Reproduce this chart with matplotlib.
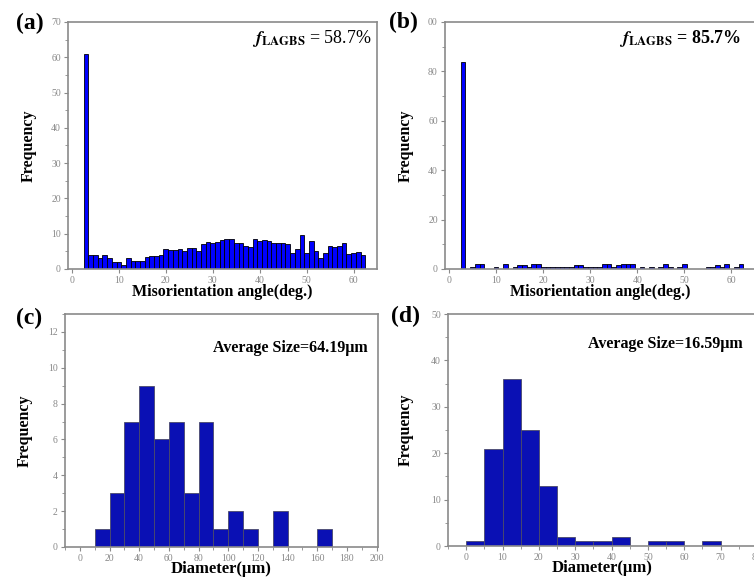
import matplotlib
matplotlib.use("Agg")
import matplotlib.pyplot as plt
import numpy as np
from matplotlib.ticker import MultipleLocator, FixedLocator, FixedFormatter

plt.rcParams['font.family'] = ['Liberation Serif', 'DejaVu Serif']
plt.rcParams['mathtext.fontset'] = 'stix'

# ---------------- data ----------------
angle_bins = list(range(3, 63))  # bin centres, width 1 deg
freq_a = [61, 4, 4, 3, 4, 3, 2, 2, 1, 3, 2.4, 2.2, 2.4, 3.4, 3.8, 3.6, 4.1, 5.6, 5.3, 5.3,
          5.7, 5.0, 6.0, 5.9, 5.1, 7.1, 7.6, 7.5, 7.6, 8.3, 8.6, 8.4, 7.5, 7.3, 6.6, 6.3,
          8.4, 8.0, 8.2, 7.8, 7.5, 7.5, 7.5, 7.2, 4.5, 5.6, 9.7, 4.5, 7.8, 5.0, 3.2, 4.5,
          6.5, 6.3, 6.4, 7.5, 4.2, 4.5, 4.7, 4.0]
freq_b = [84, 0, 1, 2, 2, 0, 0, 1, 0, 2, 0, 1, 1.5, 1.5, 1, 2, 2, 1, 1, 1,
          1, 0.7, 1, 1, 1.5, 1.5, 1, 1, 1, 1, 2, 2, 1, 1.5, 2, 2, 2, 0,
          1, 0, 1, 0, 1, 2, 1, 0, 1, 2, 0, 0, 0, 0, 1, 1, 1.5, 1, 2, 0, 1, 2]

diam_c_left = [10, 20, 30, 40, 50, 60, 70, 80, 90, 100, 110, 120, 130, 140, 150, 160]
freq_c = [1, 3, 7, 9, 6, 7, 3, 7, 1, 2, 1, 0, 2, 0, 0, 1]

diam_d_left = [0, 5, 10, 15, 20, 25, 30, 35, 40, 45, 50, 55, 60, 65]
freq_d = [1, 21, 36, 25, 13, 2, 1, 1, 2, 0, 1, 1, 0, 1]

f_lagbs_a = "58.7%"
f_lagbs_b = "85.7%"
avg_c = "Average Size=64.19\u03bcm"
avg_d = "Average Size=16.59\u03bcm"

W, H = 754, 577
fig = plt.figure(figsize=(W / 100, H / 100), dpi=100)

def box(l, r, t, b):
    return [l / W, (H - b) / H, (r - l) / W, (b - t) / H]

ax_a = fig.add_axes(box(68, 377, 22, 269))
ax_b = fig.add_axes(box(445, 755, 22, 269))
ax_c = fig.add_axes(box(65, 378, 314, 547))
ax_d = fig.add_axes(box(448, 757, 314, 546))

gray = '#8a8a8a'

def style(ax):
    for s in ax.spines.values():
        s.set_color(gray)
        s.set_linewidth(1.2)
    ax.tick_params(which='both', direction='out', color=gray, labelcolor='#888888',
                   labelsize=7)
    ax.tick_params(which='major', length=3.2)
    ax.tick_params(which='minor', length=2)
    ax.tick_params(axis='x', pad=1.5)
    ax.tick_params(axis='y', pad=2)
    for lab in ax.get_xticklabels() + ax.get_yticklabels():
        lab.set_family('Liberation Serif')

# (a)
ax_a.bar(angle_bins, freq_a, width=1.0, color='#0000ff', edgecolor='black', linewidth=0.6)
ax_a.set_xlim(-0.85, 65)
ax_a.set_ylim(0, 70)
ax_a.xaxis.set_major_locator(MultipleLocator(10))
ax_a.yaxis.set_major_locator(MultipleLocator(10))
ax_a.yaxis.set_minor_locator(MultipleLocator(5))

# (b)
ax_b.bar(angle_bins, freq_b, width=1.0, color='#0000ff', edgecolor='black', linewidth=0.6)
ax_b.set_xlim(-0.85, 65)
ax_b.set_ylim(0, 100)
ax_b.xaxis.set_major_locator(MultipleLocator(10))
ax_b.yaxis.set_major_locator(FixedLocator([0, 20, 40, 60, 80, 100]))
ax_b.yaxis.set_major_formatter(FixedFormatter(['0', '20', '40', '60', '80', '00']))
ax_b.yaxis.set_minor_locator(MultipleLocator(10))

# (c)
ax_c.bar(diam_c_left, freq_c, width=10, align='edge', color='#0a10b4',
         edgecolor='#4a4a6a', linewidth=0.6)
ax_c.set_xlim(-10, 201)
ax_c.set_ylim(0, 13)
ax_c.xaxis.set_major_locator(MultipleLocator(20))
ax_c.xaxis.set_minor_locator(MultipleLocator(10))
ax_c.yaxis.set_major_locator(MultipleLocator(2))
ax_c.yaxis.set_minor_locator(MultipleLocator(1))

# (d)
ax_d.bar(diam_d_left, freq_d, width=5, align='edge', color='#0a10b4',
         edgecolor='#4a4a6a', linewidth=0.6)
ax_d.set_xlim(-5, 80)
ax_d.set_ylim(0, 50)
ax_d.xaxis.set_major_locator(MultipleLocator(10))
ax_d.xaxis.set_minor_locator(MultipleLocator(5))
ax_d.yaxis.set_major_locator(MultipleLocator(10))
ax_d.yaxis.set_minor_locator(MultipleLocator(5))

for ax in (ax_a, ax_b, ax_c, ax_d):
    style(ax)

# axis labels
lab_kw = dict(fontweight='bold', fontsize=11.5, family='Liberation Serif')
for ax, px in ((ax_a, (37 - 68) / 309), (ax_b, (414 - 445) / 310)):
    ax.set_ylabel('Frequency', **lab_kw)
    ax.yaxis.set_label_coords(px, 0.5)
    ax.set_xlabel('Misorientation angle(deg.)', va='center', **lab_kw)
    ax.xaxis.set_label_coords(0.5, (269 - 292) / 247)
for ax, px in ((ax_c, (33 - 65) / 313), (ax_d, (414 - 448) / 309)):
    ax.set_ylabel('Frequency', **lab_kw)
    ax.yaxis.set_label_coords(px, 0.5)
    ax.set_xlabel('Diameter(\u03bcm)', va='center', fontweight='bold', fontsize=12,
                  family='Liberation Serif')
    ax.xaxis.set_label_coords(0.5, (546.5 - 568.5) / 232.5)

# panel letters
for txt, (x, y) in (('(a)', (30, 23)), ('(b)', (403, 22)), ('(c)', (29, 318)), ('(d)', (406, 316))):
    fig.text(x / W, 1 - y / H, txt, fontsize=17, fontweight='bold',
             family='Liberation Serif', ha='center', va='center')

# f_LAGBS annotations
ax_a.text(0.984, 0.935, r'$\mathbfit{f}_{\mathbf{LAGBS}}$ = ' + f_lagbs_a, transform=ax_a.transAxes,
          ha='right', va='center', fontsize=13, family='Liberation Serif')
ax_b.text(0.956, 0.935, r'$\mathbfit{f}_{\mathbf{LAGBS}}$ = ' + f_lagbs_b, transform=ax_b.transAxes,
          ha='right', va='center', fontsize=13, fontweight='bold', family='Liberation Serif')

ax_c.text(0.966, 0.854, avg_c, transform=ax_c.transAxes, ha='right', va='center',
          fontsize=11.5, fontweight='bold', family='Liberation Serif')
ax_d.text(0.955, 0.870, avg_d, transform=ax_d.transAxes, ha='right', va='center',
          fontsize=11.5, fontweight='bold', family='Liberation Serif')

fig.savefig('out.png', dpi=100)
